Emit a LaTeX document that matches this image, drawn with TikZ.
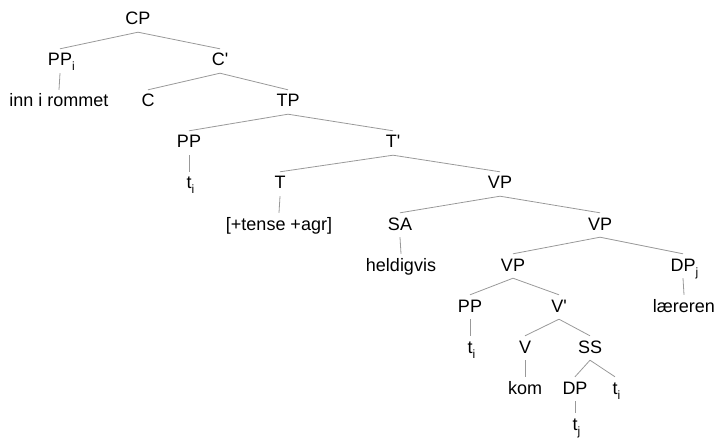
\documentclass[tikz,border=0pt]{standalone}
\usepackage{fontspec}
\setmainfont{Liberation Sans}
\newcommand\idx[1]{\rlap{\raisebox{-5pt}{\fontsize{12}{12}\selectfont #1}}}
\begin{document}
\begin{tikzpicture}[x=1pt, y=-1pt,
            every node/.style={anchor=base, font=\fontsize{18}{21}\selectfont,
                text height=13pt, text depth=3pt, inner xsep=2pt, inner ysep=4pt},
            branch/.style={draw=black!40, line width=0.8pt}]

            \useasboundingbox (0,0) rectangle (715,441);

            \node (cp)   at (138,25)  {CP};
            \node (ppi)  at (60,66)   {PP\idx{i}};
            \node (cbar) at (220,66)  {C\textquotesingle};
            \node (inn)  at (59,107)  {inn i rommet};
            \node (c)    at (148,107) {C};
            \node (tp)   at (288,107) {TP};
            \node (pp)   at (189,148) {PP};
            \node (tbar) at (393,148) {T\textquotesingle};
            \node (ti)   at (189,189) {t\idx{i}};
            \node (t)    at (280,189) {T};
            \node (vp)   at (500,189) {VP};
            \node (feat) at (279,230) {[+tense +agr]};
            \node (sa)   at (400,230) {SA};
            \node (vpb)  at (600,230) {VP};
            \node (held) at (401,271) {heldigvis};
            \node (vpc)  at (513,271) {VP};
            \node (dpj)  at (683,271) {DP\idx{j}};
            \node (ppb)  at (470,312) {PP};
            \node (vbar) at (559,312) {V\textquotesingle};
            \node (laer) at (684,312) {læreren};
            \node (tib)  at (470,353) {t\idx{i}};
            \node (v)    at (525,353) {V};
            \node (ss)   at (590,353) {SS};
            \node (kom)  at (525,394) {kom};
            \node (dp)   at (575,394) {DP};
            \node (tic)  at (615,394) {t\idx{i}};
            \node (tj)   at (575,430) {t\idx{j}};

            \foreach \p/\c in {cp/ppi, cp/cbar, ppi/inn, cbar/c, cbar/tp,
                    tp/pp, tp/tbar, pp/ti, tbar/t, tbar/vp, t/feat,
                    vp/sa, vp/vpb, sa/held, vpb/vpc, vpb/dpj, vpc/ppb, vpc/vbar,
                    dpj/laer, ppb/tib, vbar/v, vbar/ss, v/kom, ss/dp, ss/tic, dp/tj}{
                \draw[branch] (\p.south) -- (\c.north);
            }
        \end{tikzpicture}
\end{document}
